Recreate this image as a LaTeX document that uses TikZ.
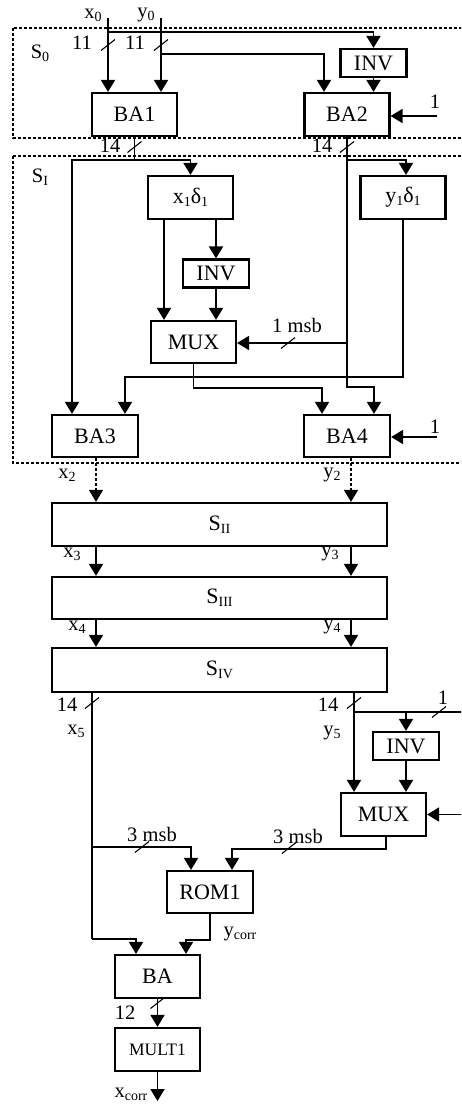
\documentclass[tikz,border=0pt]{standalone}
\usepackage{fontspec}
\setmainfont{Liberation Serif}
\usetikzlibrary{arrows.meta}
\newcommand\mysb[1]{\raisebox{-0.3ex}{\fontsize{14}{14}\selectfont #1}}
\begin{document}
\begin{tikzpicture}[x=1pt,y=-1pt,
 blk/.style={draw, line width=2.2pt, inner sep=0pt, minimum width=85pt, minimum height=43pt, font=\fontsize{22}{26}\selectfont},
 inv/.style={blk, minimum width=66pt, minimum height=28pt},
 wide/.style={blk, minimum width=335pt},
 ln/.style={line width=1.9pt},
 arr/.style={ln,-{Triangle[width=14pt,length=12pt]}},
 dotarr/.style={line width=1.5pt, dash pattern=on 3pt off 2pt,-{Triangle[width=14pt,length=12pt]}},
 dotbox/.style={line width=2pt, dash pattern=on 3pt off 2pt},
 lbl/.style={font=\fontsize{20.5}{24}\selectfont, inner sep=0pt},
 bus/.pic={\draw[line width=1.1pt] (-7,5.5) -- (7,-5.5);}]
\useasboundingbox (0,0) rectangle (461,1104);
\clip (0,0) rectangle (461,1104);

% dotted stage boxes
\draw[dotbox] (13,28) rectangle (480,138);
\draw[dotbox] (13,156) rectangle (480,463);

% blocks
\node[inv] (INV1) at (373.5,63) {INV};
\node[blk] (BA1) at (134.5,114.5) {BA1};
\node[blk] (BA2) at (347,114.5) {BA2};
\node[blk] (X1) at (190.5,197.5) {x\mysb{1}δ\mysb{1}};
\node[blk] (Y1) at (403,197.5) {y\mysb{1}δ\mysb{1}};
\node[inv] (INV2) at (216,273.5) {INV};
\node[blk, minimum height=42pt] (MUX1) at (193.5,342) {MUX};
\node[blk, minimum height=42pt, minimum width=86pt] (BA3) at (95,436) {BA3};
\node[blk, minimum height=42pt, minimum width=86pt] (BA4) at (347,436) {BA4};
\node[wide] (SII) at (219.5,524.5) {S\mysb{II}};
\node[wide, minimum height=42pt] (SIII) at (219.5,598) {S\mysb{III}};
\node[wide, minimum height=44pt] (SIV) at (219.5,670) {S\mysb{IV}};
\node[inv] (INV3) at (406,746) {INV};
\node[blk] (MUX2) at (383.5,814.5) {MUX};
\node[blk, minimum height=42pt, minimum width=86pt] (ROM1) at (210,892) {ROM1};
\node[blk] (BA) at (157.5,976.5) {BA};
\node[blk, font=\fontsize{17.5}{20}\selectfont] (MULT1) at (157.5,1049.5) {MULT1};

% free ends and junctions
\coordinate (x0in) at (108,18);
\coordinate (y0in) at (161,18);
\coordinate (j1) at (108,32);
\coordinate (j2) at (161,54);
\coordinate (one1) at (437,116);
\coordinate (j3) at (134.5,160);
\coordinate (j4) at (347,160);
\coordinate (j6) at (347,343);
\coordinate (one2) at (437,437);
\coordinate (ja) at (92,847);
\coordinate (jb) at (92,939);
\coordinate (j7) at (354,712);
\coordinate (rin1) at (470,712);
\coordinate (rin2) at (470,814.5);
\coordinate (xc) at (157.5,1101);

% stage S0
\draw[arr] (x0in) -- (x0in |- BA1.north);
\draw[arr] (y0in) -- (y0in |- BA1.north);
\draw[arr] (j1) -| (INV1.north);
\draw[arr] (INV1.south) -- (INV1.south |- BA2.north);
\draw[arr] (j2) -| ([xshift=-23pt]BA2.north);
\draw[arr] (one1) -- (one1 -| BA2.east);

% stage SI
\draw[ln] (BA1.south) -- (j3);
\draw[arr] (j3) -| (X1.north);
\draw[arr] (j3) -| ([xshift=-23pt]BA3.north);
\draw[ln] (BA2.south) -- (j4);
\draw[arr] (j4) -| ([xshift=3pt]Y1.north);
\draw[arr] (j4) -- (347,387) -| ([xshift=27pt]BA4.north);
\draw[arr] ([xshift=-26.5pt]X1.south) -- ([xshift=-29.5pt]MUX1.north);
\draw[arr] (INV2.north |- X1.south) -- (INV2.north);
\draw[arr] (INV2.south) -- (INV2.south |- MUX1.north);
\draw[arr] (Y1.south) -- ++(0,157) -| ([xshift=30pt]BA3.north);
\draw[arr] (MUX1.south) -- ++(0,24) -| ([xshift=-25pt]BA4.north);
\draw[arr] (j6) -- (j6 -| MUX1.east);
\draw[arr] (one2) -- (one2 -| BA4.east);

% to SII..SIV
\draw[dotarr] ([xshift=1pt]BA3.south) -- ([xshift=-123.5pt]SII.north);
\draw[dotarr] ([xshift=4pt]BA4.south) -- ([xshift=131.5pt]SII.north);
\draw[arr] ([xshift=-123.5pt]SII.south) -- ([xshift=-123.5pt]SIII.north);
\draw[arr] ([xshift=131.5pt]SII.south) -- ([xshift=131.5pt]SIII.north);
\draw[arr] ([xshift=-123.5pt]SIII.south) -- ([xshift=-123.5pt]SIV.north);
\draw[arr] ([xshift=131.5pt]SIII.south) -- ([xshift=131.5pt]SIV.north);

% correction part
\draw[ln] ([xshift=-127.5pt]SIV.south) -- (jb);
\draw[arr] (ja) -| ([xshift=-19pt]ROM1.north);
\draw[arr] (jb) -| ([xshift=-21.5pt]BA.north);
\draw[arr] ([xshift=134.5pt]SIV.south) -- ([xshift=-29.5pt]MUX2.north);
\draw[ln] (rin1) -- (j7);
\draw[arr] (INV3.north |- j7) -- (INV3.north);
\draw[arr] (INV3.south) -- (INV3.south |- MUX2.north);
\draw[arr] (rin2) -- (MUX2.east);
\draw[arr] ([xshift=2.5pt]MUX2.south) -- ++(0,12) -| ([xshift=22pt]ROM1.north);
\draw[arr] (ROM1.south) -- ++(0,26) -| ([xshift=28.5pt]BA.north);
\draw[arr] (BA.south) -- (MULT1.north);
\draw[arr] (MULT1.south) -- (xc);

% bus slashes
\pic at (108,45) {bus};
\pic at (161,45) {bus};
\pic at (134.5,147) {bus};
\pic at (347,147) {bus};
\pic at (288,343) {bus};
\pic at (92,703) {bus};
\pic at (354,703) {bus};
\pic at (439,712) {bus};
\pic at (142,847) {bus};
\pic at (289,848) {bus};
\pic at (157.5,1003) {bus};

% labels
\node[lbl] (lx0) at (93,15) {x\mysb{0}};
\node[lbl] (ly0) at (146,15) {y\mysb{0}};
\node[lbl] (lS0) at (40,53) {S\mysb{0}};
\node[lbl] (l11a) at (82,43) {11};
\node[lbl] (l11b) at (135,43) {11};
\node[lbl] (l1a) at (435,102) {1};
\node[lbl] (l14a) at (110,146) {14};
\node[lbl] (l14b) at (322,146) {14};
\node[lbl] (lSI) at (40,177) {S\mysb{I}};
\node[lbl] (lmsb) at (297,325) {1 msb};
\node[lbl] (l1b) at (435,427) {1};
\node[lbl] (lx2) at (67,475) {x\mysb{2}};
\node[lbl] (ly2) at (332,475) {y\mysb{2}};
\node[lbl] (lx3) at (72,554) {x\mysb{3}};
\node[lbl] (ly3) at (330,554) {y\mysb{3}};
\node[lbl] (lx4) at (77,627) {x\mysb{4}};
\node[lbl] (ly4) at (332,627) {y\mysb{4}};
\node[lbl] (l14c) at (67,705) {14};
\node[lbl] (l14d) at (328,705) {14};
\node[lbl] (l1c) at (443,698) {1};
\node[lbl] (lx5) at (76,731) {x\mysb{5}};
\node[lbl] (ly5) at (332,733) {y\mysb{5}};
\node[lbl] (lmsb2) at (152,834) {3 msb};
\node[lbl] (lmsb3) at (298,836) {3 msb};
\node[lbl] (lyc) at (240,934) {y\mysb{corr}};
\node[lbl] (l12) at (125,1013) {12};
\node[lbl] (lxc) at (131,1094) {x\mysb{corr}};
\end{tikzpicture}
\end{document}
